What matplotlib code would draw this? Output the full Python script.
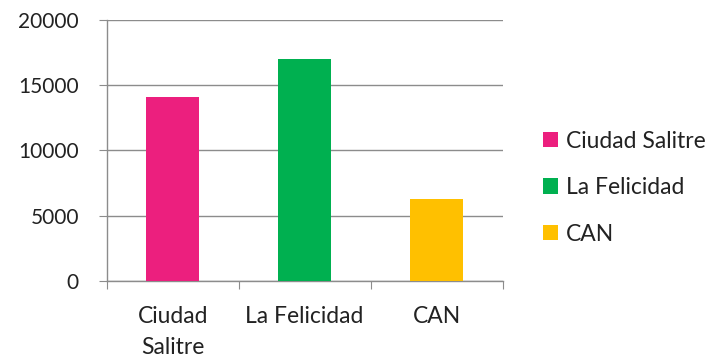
import matplotlib
matplotlib.use("Agg")
import matplotlib.pyplot as plt
from matplotlib.patches import Patch

categories = ["Ciudad\nSalitre", "La Felicidad", "CAN"]
series_names = ["Ciudad Salitre", "La Felicidad", "CAN"]
values = [14100, 17000, 6300]
colors = ["#EC1F7E", "#00B050", "#FFC000"]
yticks = [0, 5000, 10000, 15000, 20000]

plt.rcParams["font.family"] = ["Lato", "DejaVu Sans"]
FS_TICK = 15
FS_TEXT = 16.5

fig = plt.figure(figsize=(7.19, 3.63), dpi=100)
ax = fig.add_axes([0.1484, 0.2259, 0.5506, 0.7191])

x = list(range(len(values)))
ax.bar(x, values, width=0.4, color=colors, zorder=3)

ax.set_xlim(-0.5, len(values) - 0.5)
ax.set_ylim(0, 20000)
ax.set_yticks(yticks)
ax.set_yticklabels([str(v) for v in yticks], fontsize=FS_TICK, color="#222222")
ax.yaxis.grid(True, color="#8c8c8c", linewidth=1.0, zorder=0)

ax.set_xticks([i + 0.5 for i in x[:-1]] + [-0.5, len(values) - 0.5])
ax.set_xticklabels([])
ax.tick_params(axis="x", length=6, color="#8c8c8c", direction="out")
ax.tick_params(axis="y", length=6, color="#8c8c8c", direction="out", pad=14)
for i, lab in enumerate(categories):
    ax.text(i, -1950, lab, ha="center", va="top", fontsize=FS_TEXT,
            color="#222222", linespacing=1.55)

for s in ["top", "right"]:
    ax.spines[s].set_visible(False)
for s in ["left", "bottom"]:
    ax.spines[s].set_color("#8c8c8c")
    ax.spines[s].set_linewidth(1.0)

handles = [Patch(facecolor=c, edgecolor="none") for c in colors]
fig.legend(handles, series_names, loc="center left",
           bbox_to_anchor=(0.749, 0.483), frameon=False, fontsize=FS_TEXT,
           handlelength=0.65, handleheight=0.65, labelspacing=1.12,
           handletextpad=0.35, labelcolor="#222222", borderpad=0.2,
           borderaxespad=0.0)

fig.savefig("out.png", dpi=100)
